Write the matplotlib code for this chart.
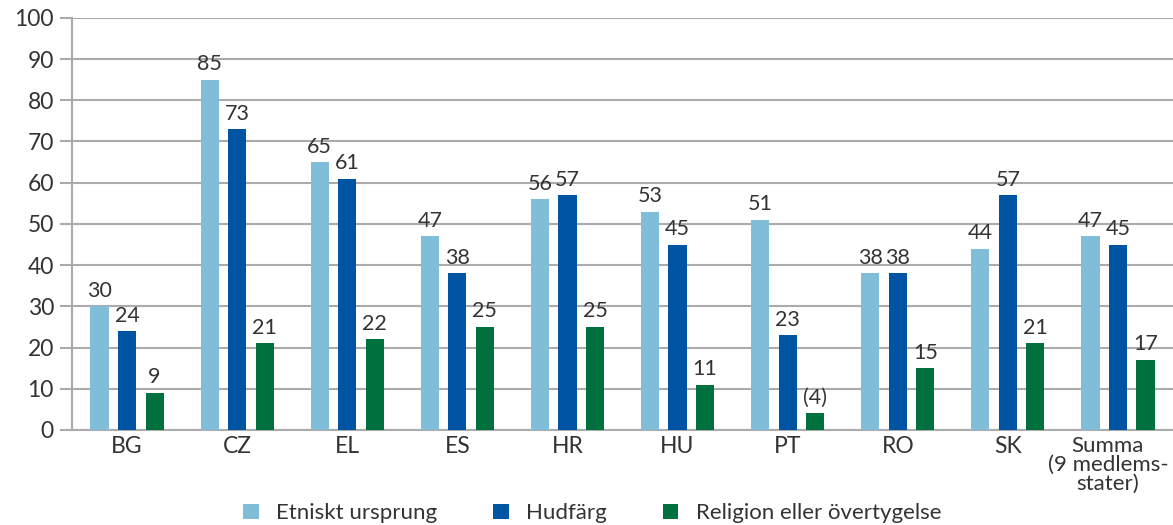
import numpy as np
import matplotlib.pyplot as plt
import matplotlib.transforms as mtransforms

plt.rcParams['font.family'] = ['Lato', 'DejaVu Sans']

# Data
categories = ['BG', 'CZ', 'EL', 'ES', 'HR', 'HU', 'PT', 'RO', 'SK',
              'Summa\n(9 medlems-\nstater)']
etniskt = [30, 85, 65, 47, 56, 53, 51, 38, 44, 47]
hudfarg = [24, 73, 61, 38, 57, 45, 23, 38, 57, 45]
religion = [9, 21, 22, 25, 25, 11, 4, 15, 21, 17]
religion_labels = ['9', '21', '22', '25', '25', '11', '(4)', '15', '21', '17']
series_names = ['Etniskt ursprung', 'Hudfärg', 'Religion eller övertygelse']
colors = ['#7FBDD8', '#0054A4', '#00713E']

fig = plt.figure(figsize=(11.73, 5.25), dpi=100)
ax = fig.add_axes([0.0614, 0.181, 0.9386, 0.785])

x = np.arange(len(categories))
offset = 0.25
width = 0.165
grey = '#ABABAB'
text_color = '#333333'

all_series = [etniskt, hudfarg, religion]
all_labels = [[str(v) for v in etniskt], [str(v) for v in hudfarg], religion_labels]
for i, (vals, labs) in enumerate(zip(all_series, all_labels)):
    pos = x + (i - 1) * offset
    bars = ax.bar(pos, vals, width, color=colors[i], label=series_names[i], zorder=3)
    ax.bar_label(bars, labels=labs, padding=4, fontsize=15.5, color=text_color)

ax.set_xlim(-0.5, len(categories) - 0.5)
ax.set_ylim(0, 100)
ax.set_yticks(np.arange(0, 101, 10))
ax.yaxis.grid(True, color=grey, linewidth=1.5, zorder=0)
ax.set_axisbelow(True)

ax.set_xticks(x)
ax.set_xticklabels(categories, fontsize=16.5, color=text_color, linespacing=0.95)
ax.tick_params(axis='x', length=0, pad=4)
ax.tick_params(axis='y', length=9, width=1.5, color=grey, labelsize=16.5,
               labelcolor=text_color, pad=4)

# nudge the long last label left so it stays inside the figure
last = ax.get_xticklabels()[-1]
last.set_fontsize(16)
last.set_transform(last.get_transform() +
                   mtransforms.ScaledTranslation(-10 / 100, 0, fig.dpi_scale_trans))

for side in ['top', 'right']:
    ax.spines[side].set_visible(False)
for side in ['left', 'bottom']:
    ax.spines[side].set_color(grey)
    ax.spines[side].set_linewidth(1.5)

fig.legend(loc='lower center', bbox_to_anchor=(0.505, -0.035), ncol=3, frameon=False,
           fontsize=16, handlelength=0.7, handleheight=0.7, columnspacing=2.5,
           handletextpad=0.8, labelcolor=text_color)

fig.savefig('out.png', dpi=100)
